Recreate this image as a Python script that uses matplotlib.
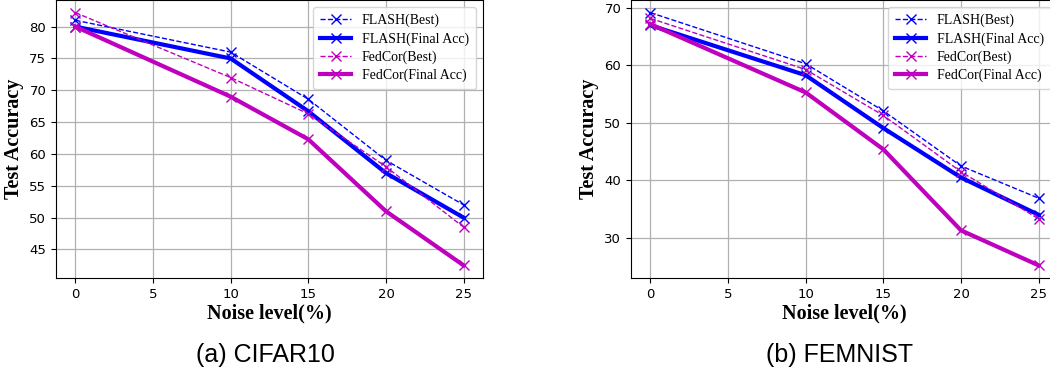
import matplotlib
matplotlib.use("Agg")
import matplotlib.pyplot as plt

noise = [0, 10, 15, 20, 25]
xticks = [0, 5, 10, 15, 20, 25]

cifar_flash_best = [81.0, 76.0, 68.6, 59.0, 52.0]
cifar_flash_final = [80.0, 75.0, 66.7, 57.0, 50.0]
cifar_fedcor_best = [82.2, 72.0, 66.3, 58.0, 48.5]
cifar_fedcor_final = [80.0, 69.0, 62.3, 51.0, 42.5]

femnist_flash_best = [69.2, 60.3, 52.1, 42.5, 36.9]
femnist_flash_final = [67.0, 58.3, 49.1, 40.5, 34.0]
femnist_fedcor_best = [68.2, 59.3, 51.3, 41.5, 33.3]
femnist_fedcor_final = [67.2, 55.3, 45.4, 31.3, 25.2]

labels = ["FLASH(Best)", "FLASH(Final Acc)", "FedCor(Best)", "FedCor(Final Acc)"]
captions = ["(a) CIFAR10", "(b) FEMNIST"]

W, H = 1050, 377
fig = plt.figure(figsize=(W / 100, H / 100), dpi=100)

serif = ["Liberation Serif", "DejaVu Serif"]

def panel(rect, series):
    ax = fig.add_axes(rect)
    fb, ff, cb, cf = series
    ax.plot(noise, fb, color="b", ls="--", lw=1, marker="x", ms=7, label=labels[0])
    ax.plot(noise, ff, color="b", ls="-", lw=3, marker="x", ms=7, label=labels[1])
    ax.plot(noise, cb, color="m", ls="--", lw=1, marker="x", ms=7, label=labels[2])
    ax.plot(noise, cf, color="m", ls="-", lw=3, marker="x", ms=7, label=labels[3])
    ax.set_xticks(xticks)
    ax.grid(True, color="#b0b0b0", lw=0.9)
    ax.tick_params(labelsize=9.5)
    ax.set_xlabel("Noise level(%)", fontsize=14.5, fontweight="bold", family=serif, labelpad=2)
    ax.set_ylabel("Test Accuracy", fontsize=14.5, fontweight="bold", family=serif, labelpad=4)
    ax.legend(loc="upper right", prop={"family": serif, "size": 10}, handlelength=2.2,
              labelspacing=0.35, borderpad=0.5)
    return ax

ax1 = panel([56 / W, 1 - 278 / H, 427 / W, 278 / H],
            [cifar_flash_best, cifar_flash_final, cifar_fedcor_best, cifar_fedcor_final])
ax2 = panel([631 / W, 1 - 278 / H, 427 / W, 278 / H],
            [femnist_flash_best, femnist_flash_final, femnist_fedcor_best, femnist_fedcor_final])

fig.text(265 / W, 1 - 355 / H, captions[0], ha="center", va="center", fontsize=18,
         family=["Liberation Sans", "DejaVu Sans"])
fig.text(840 / W, 1 - 355 / H, captions[1], ha="center", va="center", fontsize=18,
         family=["Liberation Sans", "DejaVu Sans"])

fig.savefig("out.png", dpi=100)
